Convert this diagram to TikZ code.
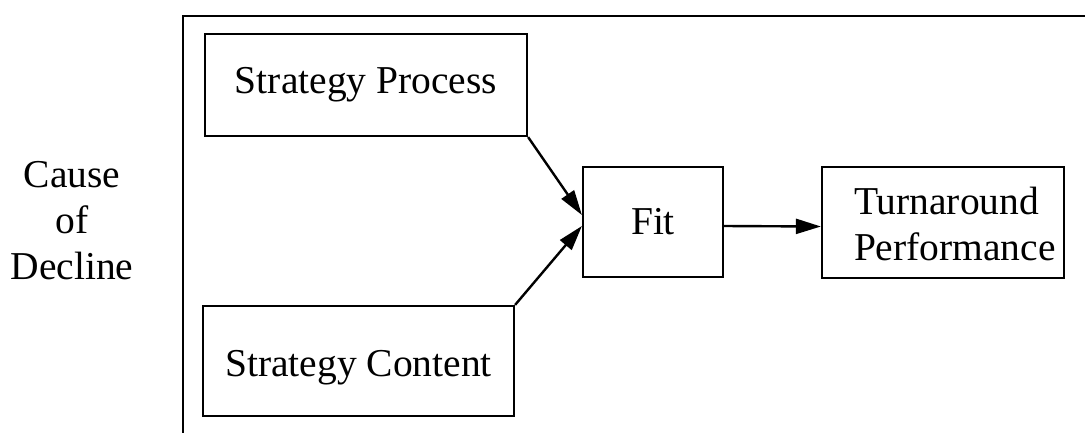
\documentclass[tikz,border=0pt]{standalone}
\usepackage{fontspec}
\setmainfont{Liberation Serif}
\usetikzlibrary{arrows.meta}
\begin{document}
\begin{tikzpicture}[x=1pt,y=-1pt,
  box/.style={draw, line width=2.2pt, rectangle, inner sep=0pt, font=\fontsize{39.5}{46}\selectfont},
  conn/.style={line width=2.4pt, -{Triangle[length=25pt,width=15pt]}},
  lbl/.style={inner sep=0pt, align=center, font=\fontsize{39.5}{46}\selectfont}]
\useasboundingbox (0,0) rectangle (1085,432);
\fill[white] (0,0) rectangle (1085,432);
% outer frame (open to right and bottom)
\coordinate (frameBL) at (183,440);
\coordinate (frameTL) at (183,16);
\coordinate (frameTR) at (1095,16);
\draw[line width=2.2pt] (frameBL) -- (frameTL) -- (frameTR);
% nodes
\node[box, minimum width=322pt, minimum height=102pt] (sp) at (366,85) {Strategy Process};
\node[box, minimum width=311pt, minimum height=110pt, text height=40pt, text depth=8.6pt] (sc) at (358.5,361) {Strategy Content};
\node[box, minimum width=140pt, minimum height=110pt] (fit) at (653,222) {Fit};
\node[box, minimum width=242pt, minimum height=111pt, text width=178pt, align=left, text height=30pt] (ta) at (943,222.5) {Turnaround\\Performance};
\node[lbl] (cause) at (72,221) {Cause\\of\\Decline};
% connectors
\draw[conn] (sp.south east) -- ([yshift=7pt]fit.west);
\draw[conn] (sc.north east) -- ([yshift=-4pt]fit.west);
\draw[conn] ([yshift=-4pt]fit.east) -- ([yshift=-4pt]ta.west);
\end{tikzpicture}
\end{document}
